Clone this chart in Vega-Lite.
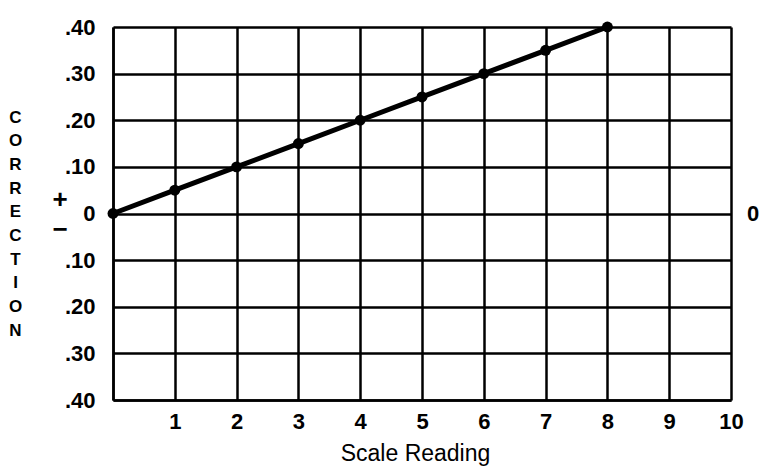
{
  "$schema": "https://vega.github.io/schema/vega-lite/v6.json",
  "width": 618,
  "height": 373,
  "autosize": {"type": "none"},
  "padding": {"left": 113, "top": 27, "right": 30, "bottom": 75},
  "background": "white",
  "config": {
    "view": {"stroke": null},
    "font": "Liberation Sans"
  },
  "layer": [
    {
      "data": {
        "values": [
          {"reading": 0, "correction": 0.0},
          {"reading": 1, "correction": 0.05},
          {"reading": 2, "correction": 0.10},
          {"reading": 3, "correction": 0.15},
          {"reading": 4, "correction": 0.20},
          {"reading": 5, "correction": 0.25},
          {"reading": 6, "correction": 0.30},
          {"reading": 7, "correction": 0.35},
          {"reading": 8, "correction": 0.40}
        ]
      },
      "layer": [
        {
          "mark": {"type": "line", "color": "black", "strokeWidth": 5},
          "encoding": {
            "x": {
              "field": "reading",
              "type": "quantitative",
              "scale": {"domain": [0, 10], "nice": false, "zero": false},
              "axis": {
                "values": [0, 1, 2, 3, 4, 5, 6, 7, 8, 9, 10],
                "format": "d",
                "labelExpr": "datum.value == 0 ? '' : datum.label",
                "grid": true,
                "gridColor": "black",
                "gridWidth": 2.5,
                "gridOpacity": 1,
                "domainColor": "black",
                "domainWidth": 2.5,
                "ticks": false,
                "labelFontSize": 22,
                "labelFontWeight": "bold",
                "labelColor": "black",
                "labelPadding": 11,
                "labelFlush": false,
                "title": "Scale Reading",
                "titleFontSize": 23,
                "titleFontWeight": "normal",
                "titleColor": "black",
                "titlePadding": 10,
                "titleX": 302,
                "titleAlign": "center"
              }
            },
            "y": {
              "field": "correction",
              "type": "quantitative",
              "scale": {"domain": [-0.4, 0.4], "nice": false, "zero": false},
              "axis": {
                "values": [-0.4, -0.3, -0.2, -0.1, 0, 0.1, 0.2, 0.3, 0.4],
                "labelExpr": "abs(datum.value) < 0.001 ? '0' : replace(format(abs(datum.value), '.2f'), '0.', '.')",
                "grid": true,
                "gridColor": "black",
                "gridWidth": 2.5,
                "gridOpacity": 1,
                "domainColor": "black",
                "domainWidth": 2.5,
                "ticks": false,
                "labelFontSize": 22,
                "labelFontWeight": "bold",
                "labelColor": "black",
                "labelPadding": 18,
                "labelFlush": false,
                "title": ["C", "O", "R", "R", "E", "C", "T", "I", "O", "N"],
                "titleAngle": 0,
                "titleFontSize": 17,
                "titleFontWeight": "bold",
                "titleColor": "black",
                "titleLineHeight": 23.7,
                "titleAlign": "center",
                "titleBaseline": "top",
                "titleX": -98,
                "titleY": 82
              }
            }
          }
        },
        {
          "mark": {"type": "point", "filled": true, "color": "black", "size": 120, "opacity": 1},
          "encoding": {
            "x": {"field": "reading", "type": "quantitative"},
            "y": {"field": "correction", "type": "quantitative"}
          }
        }
      ]
    },
    {
      "data": {"values": [{"sign": "+"}]},
      "mark": {"type": "text", "fontSize": 26, "fontWeight": "bold", "color": "black", "dx": -53, "dy": -14},
      "encoding": {"text": {"field": "sign"}, "x": {"datum": 0}, "y": {"datum": 0}}
    },
    {
      "data": {"values": [{"sign": "−"}]},
      "mark": {"type": "text", "fontSize": 26, "fontWeight": "bold", "color": "black", "dx": -53, "dy": 16},
      "encoding": {"text": {"field": "sign"}, "x": {"datum": 0}, "y": {"datum": 0}}
    },
    {
      "data": {"values": [{"label": "0"}]},
      "mark": {"type": "text", "fontSize": 22, "fontWeight": "bold", "color": "black", "dx": 22, "dy": 0},
      "encoding": {"text": {"field": "label"}, "x": {"datum": 10}, "y": {"datum": 0}}
    }
  ]
}
